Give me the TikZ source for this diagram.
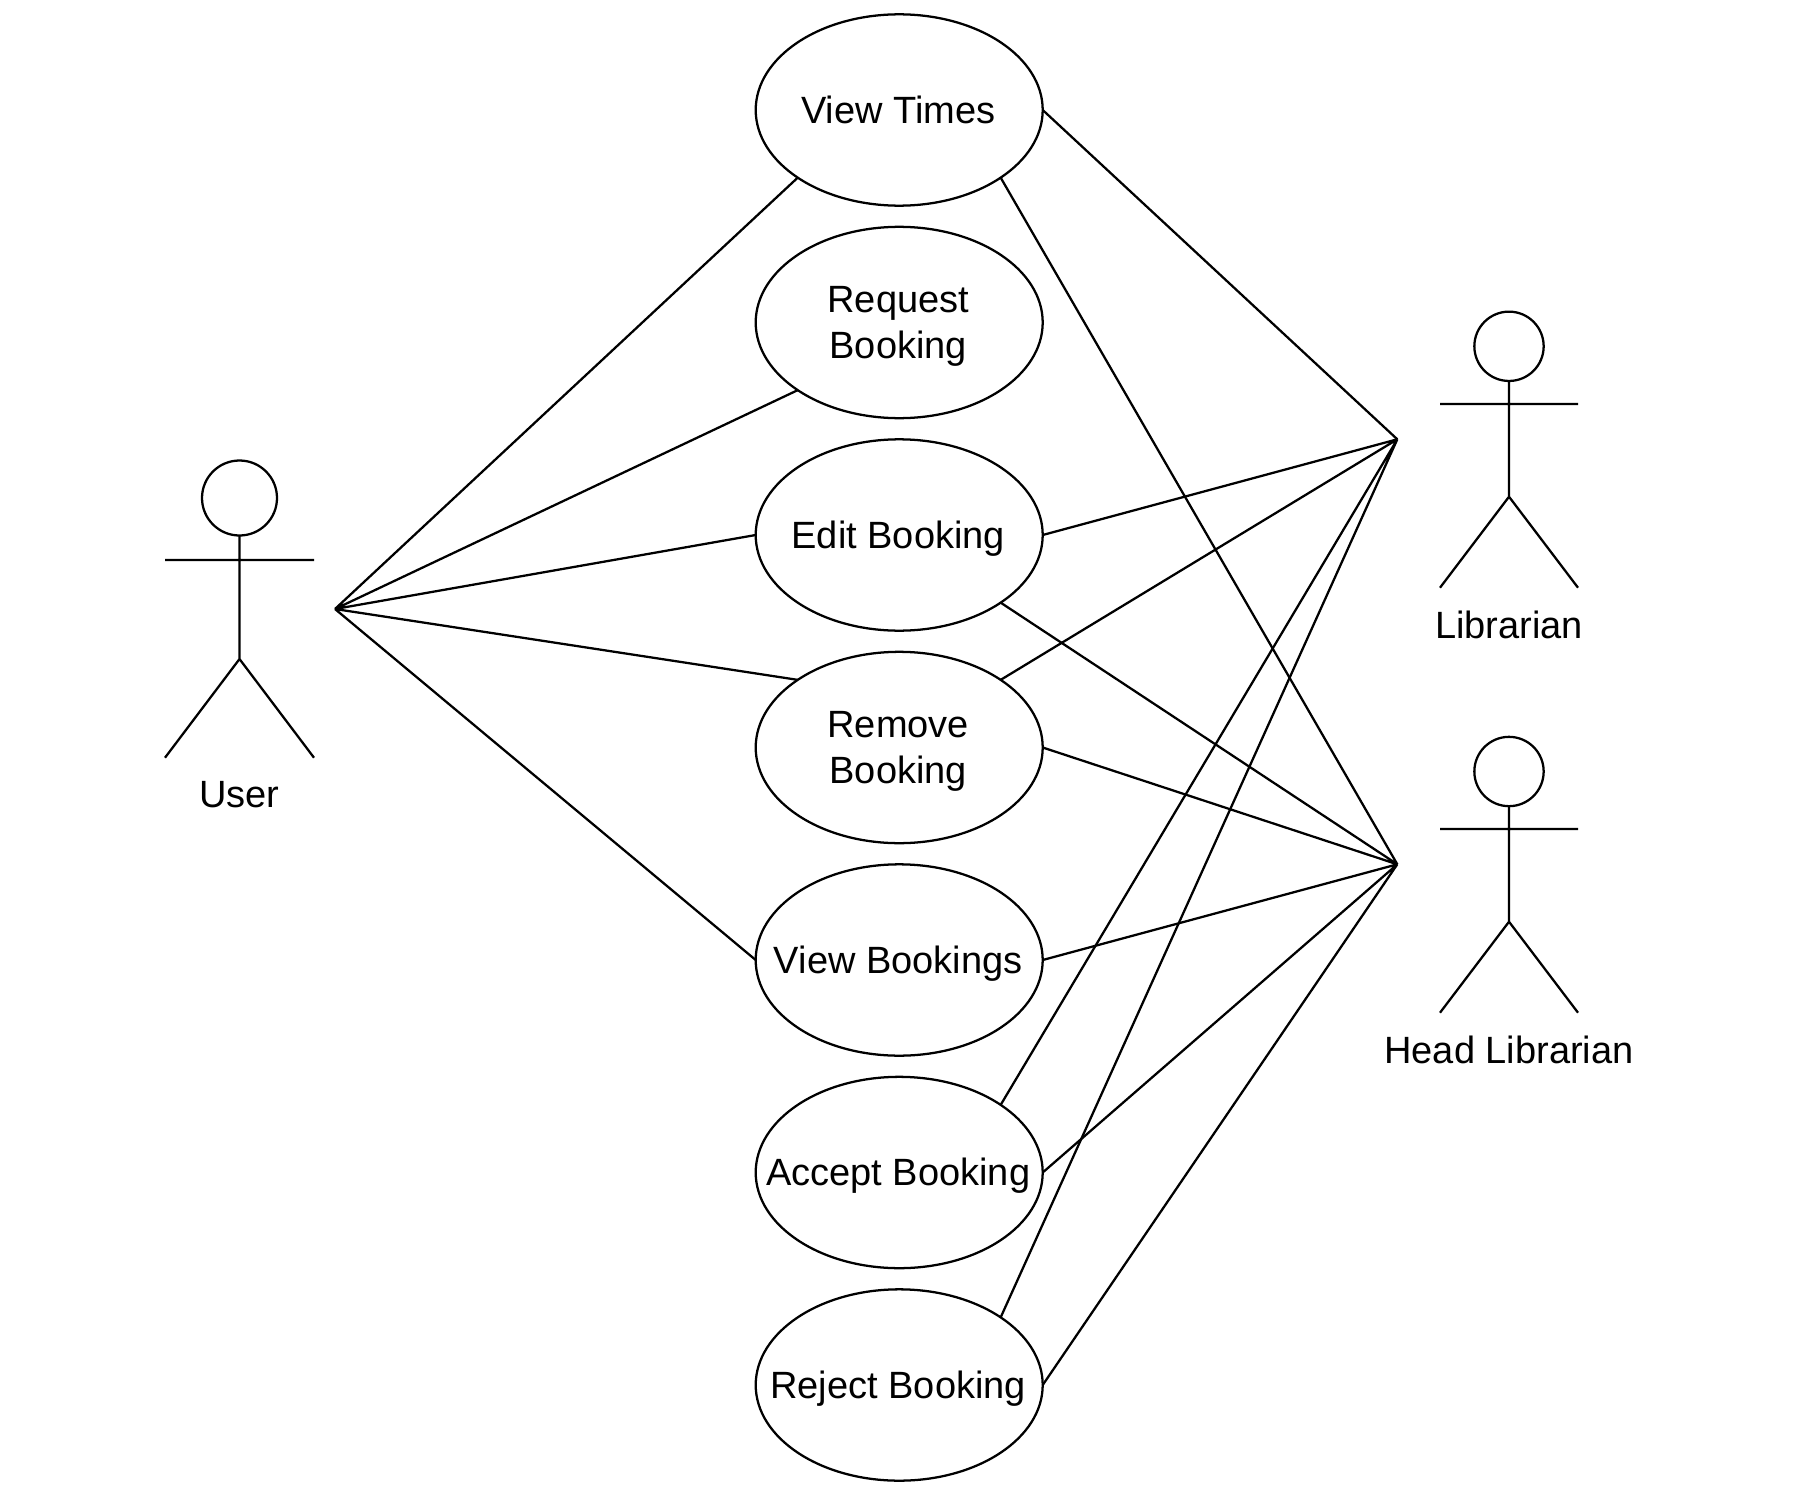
\documentclass[tikz,border=0pt]{standalone}
\usepackage{fontspec}
\setmainfont{Liberation Sans}
\usetikzlibrary{shapes.geometric}
\newcommand{\ucone}[1]{\makebox[0pt]{\hspace*{-1.5pt}\rule[-5pt]{0pt}{30.5pt}#1}}
\newcommand{\uctwo}[2]{\makebox[0pt]{\hspace*{-1.5pt}\rule{0pt}{25pt}#1}\\\makebox[0pt]{\hspace*{-1.5pt}\rule[-6pt]{0pt}{0pt}#2}}
\tikzset{
  usecase/.style={ellipse,draw=black,line width=1.7pt,minimum width=215.25pt,minimum height=143.5pt,
    inner sep=0pt,outer sep=0pt,align=center,font=\fontsize{28.5}{34.3}\selectfont},
  headshape/.style={circle,draw=black,line width=1.7pt,inner sep=0pt,outer sep=0pt},
  actorlabel/.style={anchor=base,inner sep=0pt,outer sep=0pt,font=\fontsize{28.5}{34.3}\selectfont},
  stick/.style={draw=black,line width=1.7pt},
  assoc/.style={draw=black,line width=1.7pt},
}
\begin{document}
\begin{tikzpicture}[x=0.75pt,y=-0.75pt]
\useasboundingbox (0,0) rectangle (1798,1491);
% use cases
\node[usecase] (vt) at (899.2,110) {\ucone{View Times}};
\node[usecase] (rq) at (899.2,322.5) {\uctwo{Request}{Booking}};
\node[usecase] (ed) at (899.2,535) {\ucone{Edit Booking}};
\node[usecase] (rm) at (899.2,747.5) {\uctwo{Remove}{Booking}};
\node[usecase] (vb) at (899.2,960) {\ucone{View Bookings}};
\node[usecase] (ac) at (899.2,1172.5) {\ucone{Accept Booking}};
\node[usecase] (rj) at (899.2,1385) {\ucone{Reject Booking}};
% User actor
\node[headshape,minimum size=56.25pt] (uh) at (239.5,498) {};
\coordinate (ub) at (239.5,659);
\coordinate (ual) at (165,560); \coordinate (uar) at (314,560);
\coordinate (ull) at (165,757.7); \coordinate (ulr) at (314,757.7);
\path[stick] (uh.south) -- (ub) (ual) -- (uar) (ull) -- (ub) -- (ulr);
\node[actorlabel] (ut) at (239.5,807.5) {User};
% Librarian actor
\node[headshape,minimum size=52pt] (lh) at (1509,346.3) {};
\coordinate (lb) at (1509,496.7);
\coordinate (lal) at (1440,404); \coordinate (lar) at (1578,404);
\coordinate (lll) at (1440,587.7); \coordinate (llr) at (1578,587.7);
\path[stick] (lh.south) -- (lb) (lal) -- (lar) (lll) -- (lb) -- (llr);
\node[actorlabel] (lt) at (1509,638) {Librarian};
% Head Librarian actor
\node[headshape,minimum size=52pt] (hh) at (1509,771.5) {};
\coordinate (hb) at (1509,921.7);
\coordinate (hal) at (1440,829); \coordinate (har) at (1578,829);
\coordinate (hll) at (1440,1012.7); \coordinate (hlr) at (1578,1012.7);
\path[stick] (hh.south) -- (hb) (hal) -- (har) (hll) -- (hb) -- (hlr);
\node[actorlabel] (ht) at (1509,1063) {Head Librarian};
% fan points
\coordinate (U) at (335,609);
\coordinate (L) at (1397.3,439.3);
\coordinate (H) at (1397.3,864.3);
% associations
\path[assoc] (U) -- (vt.south west) (U) -- (rq.south west) (U) -- (ed.west) (U) -- (rm.north west) (U) -- (vb.west);
\path[assoc] (L) -- (vt.east) (L) -- (ed.east) (L) -- (rm.north east) (L) -- (ac.north east) (L) -- (rj.north east);
\path[assoc] (H) -- (vt.south east) (H) -- (ed.south east) (H) -- (rm.east) (H) -- (vb.east) (H) -- (ac.east) (H) -- (rj.east);
\end{tikzpicture}
\end{document}
